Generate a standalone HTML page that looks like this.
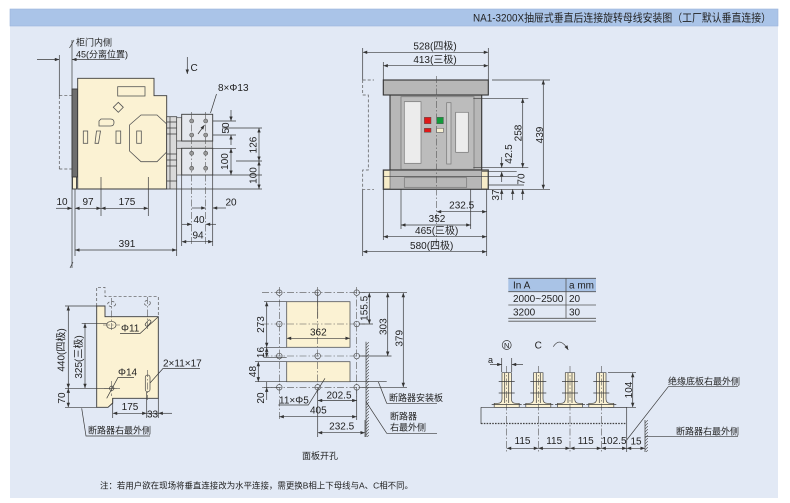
<!DOCTYPE html>
<html><head><meta charset="utf-8">
<style>
html,body{margin:0;padding:0;background:#fff;}
svg{display:block}
text{font-family:"Liberation Sans","Noto Sans CJK SC",sans-serif;fill:#222;}
.n{font-size:10px}
.c{font-size:9px}
.l{stroke:#3a3a3a;stroke-width:0.7;fill:none}
.k{stroke:#3a3a3a;stroke-width:0.7;fill:none;marker-start:url(#ar);marker-end:url(#ar)}
.e{stroke:#3a3a3a;stroke-width:0.7;fill:none;marker-end:url(#ar)}
.dd{stroke:#555;stroke-width:0.6;fill:none;stroke-dasharray:7 2 1.5 2}
.ds{stroke:#555;stroke-width:0.7;fill:none;stroke-dasharray:3 2}
.o{stroke:#3a3a3a;stroke-width:0.9}
.cr{fill:#fbf2d3}
</style></head><body>
<svg width="790" height="503" viewBox="0 0 790 503" xmlns="http://www.w3.org/2000/svg">
<defs>
<marker id="ar" viewBox="0 0 8 6" refX="8" refY="3" markerWidth="6" markerHeight="3.4" markerUnits="userSpaceOnUse" orient="auto-start-reverse"><path d="M0,0 L8,3 L0,6 z" fill="#333"/></marker>
<pattern id="h" width="3" height="3" patternUnits="userSpaceOnUse"><line x1="0" y1="3" x2="3" y2="0" stroke="#444" stroke-width="0.6"/></pattern>
</defs>

<!-- frame -->
<rect x="10" y="26" width="768" height="472" fill="#e2e9f5"/>
<rect x="10" y="9" width="768" height="17" fill="#aac4e8" stroke="#9bb5dc" stroke-width="0.6"/>
<text x="473" y="21.5" font-size="11" fill="#1a1a1a" textLength="298" lengthAdjust="spacingAndGlyphs">NA1-3200X抽屉式垂直后连接旋转母线安装图（工厂默认垂直连接）</text>

<!-- ================= LEFT TOP ================= -->
<line class="l" x1="72" y1="40" x2="72" y2="268"/>
<line class="l" x1="69.5" y1="48" x2="74" y2="40"/>
<line class="l" x1="70" y1="268" x2="73" y2="262"/>
<text class="c" x="76" y="45.5">柜门内侧</text>
<text class="c" x="76" y="57.5">45(分离位置)</text>
<line class="e" x1="37" y1="59.5" x2="59.3" y2="59.5"/>
<line class="e" x1="120" y1="59.5" x2="72" y2="59.5"/>
<line class="l" x1="59.3" y1="55" x2="59.3" y2="96"/>
<path class="ds" d="M59.3,96 V169 M59.3,95.7 H72 M59.3,169 H72"/>

<rect x="72" y="89" width="5.7" height="88" fill="#6e6e6e" class="o"/>
<rect x="72.5" y="177" width="4" height="12" class="cr o"/>
<path d="M77.7,78.3 H154 V95.7 H166.7 V189 H77.7 Z" class="cr o"/>
<rect x="117.7" y="86.7" width="27.3" height="9.3" fill="none" stroke="#555" stroke-width="0.8"/>
<polygon points="118.3,102.3 123.3,107.3 118.3,112.3 113.3,107.3" fill="none" stroke="#555" stroke-width="0.8"/>
<path d="M101,119 H110.5 Q114,119 114,122.5 Q114,126 110.5,126 H99 V121 Z" fill="none" stroke="#555" stroke-width="0.8"/>
<rect x="83.3" y="131" width="4.4" height="12.3" fill="none" stroke="#555" stroke-width="0.8"/>
<polygon points="96.5,131 100.5,131 98.5,143.3 95,143.3" fill="none" stroke="#555" stroke-width="0.8"/>
<rect x="116" y="131" width="4.7" height="12.3" fill="none" stroke="#555" stroke-width="0.8"/>
<rect x="136.7" y="131" width="4.6" height="12.3" fill="none" stroke="#555" stroke-width="0.8"/>
<polygon points="129.5,125 141,115 157,115 166.7,124 166.7,152 157,161.7 141,161.7 129.5,151" fill="none" stroke="#555" stroke-width="0.8"/>

<!-- connectors -->
<rect x="166.7" y="116.7" width="10" height="72.3" fill="#d9d9d9" stroke="#444" stroke-width="0.8"/>
<path class="l" d="M170,117 V189 M166.7,122 H176.7 M166.7,128 H176.7 M166.7,134 H176.7 M166.7,154 H176.7 M166.7,160 H176.7 M166.7,166 H176.7 M166.7,181 H176.7"/>
<rect x="176.7" y="117.7" width="5" height="23.3" fill="#e2e2e2" stroke="#555" stroke-width="0.7"/>
<rect x="176.7" y="148.3" width="5" height="26.7" fill="#e2e2e2" stroke="#555" stroke-width="0.7"/>
<rect x="176.7" y="141" width="36" height="7.3" fill="#d6d8dc" stroke="#555" stroke-width="0.7"/>
<rect x="181.7" y="114.3" width="31" height="26.7" fill="#e5e8ee" class="o"/>
<rect x="181.7" y="148.3" width="31" height="26.7" fill="#e5e8ee" class="o"/>
<line class="dd" x1="191.7" y1="112" x2="191.7" y2="244"/>
<line class="dd" x1="205.7" y1="112" x2="205.7" y2="244"/>
<g fill="#9a9a9a" stroke="#555" stroke-width="0.6">
<circle cx="191.7" cy="121" r="2"/><circle cx="205.7" cy="121" r="2"/>
<circle cx="191.7" cy="135" r="2"/><circle cx="205.7" cy="135" r="2"/>
<circle cx="191.7" cy="153.3" r="2"/><circle cx="205.7" cy="153.3" r="2"/>
<circle cx="191.7" cy="168.3" r="2"/><circle cx="205.7" cy="168.3" r="2"/>
</g>
<line class="e" x1="198" y1="134" x2="204.5" y2="125"/>
<line class="l" x1="210.5" y1="113" x2="216.5" y2="94"/>
<text class="n" x="218" y="91" font-size="9.5">8×Φ13</text>
<line class="e" x1="187.3" y1="57" x2="187.3" y2="74"/>
<text class="n" x="190.5" y="71">C</text>

<!-- right dims -->
<path class="l" d="M213,121 H236 M213,135 H236 M213,148.3 H236 M213,175 H262 M177,189 H262 M222,128 H262 M236,161 H262"/>
<line class="e" x1="231" y1="110" x2="231" y2="121"/>
<line class="e" x1="231" y1="145" x2="231" y2="135"/>
<line class="k" x1="231" y1="148.3" x2="231" y2="175"/>
<line class="k" x1="259" y1="128" x2="259" y2="161"/>
<line class="k" x1="259" y1="161" x2="259" y2="189"/>
<text class="n" text-anchor="middle" transform="translate(225.5,128) rotate(-90)" dy="0.35em">50</text>
<text class="n" text-anchor="middle" transform="translate(224.5,161.5) rotate(-90)" dy="0.35em">100</text>
<text class="n" text-anchor="middle" transform="translate(253,145) rotate(-90)" dy="0.35em">126</text>
<text class="n" text-anchor="middle" transform="translate(253,175.5) rotate(-90)" dy="0.35em">100</text>

<!-- bottom dims -->
<path class="l" d="M75,189 V256 M101,177 V216 M148.3,177 V216 M176.7,189 V256 M181.7,175 V246 M212.7,175 V246"/>
<line class="e" x1="56" y1="208.3" x2="72" y2="208.3"/>
<line class="k" x1="75" y1="208.3" x2="101" y2="208.3"/>
<line class="k" x1="101" y1="208.3" x2="148.3" y2="208.3"/>
<text class="n" x="62" y="205" text-anchor="middle">10</text>
<text class="n" x="88" y="205" text-anchor="middle">97</text>
<text class="n" x="127" y="205" text-anchor="middle">175</text>
<line class="e" x1="192" y1="208" x2="205.7" y2="208"/>
<line class="e" x1="226" y1="208" x2="212.7" y2="208"/>
<text class="n" x="231" y="205.5" text-anchor="middle">20</text>
<line class="e" x1="182" y1="224.3" x2="191.7" y2="224.3"/>
<line class="e" x1="216" y1="224.3" x2="205.7" y2="224.3"/>
<text class="n" x="199" y="223" text-anchor="middle">40</text>
<line class="k" x1="181.7" y1="241.7" x2="212.7" y2="241.7"/>
<text class="n" x="198" y="238.5" text-anchor="middle">94</text>
<line class="k" x1="75" y1="250" x2="176.7" y2="250"/>
<text class="n" x="127" y="247" text-anchor="middle">391</text>

<!-- ================= MIDDLE TOP ================= -->
<path class="l" d="M362.7,48 V80 M362.7,189.3 V256 M383.3,62 V80 M383.3,189.3 V240 M488.3,48 V80 M486.7,189.3 V256 M401,170 V229 M470.7,170 V229"/>
<path class="ds" d="M362.7,80 H374 M362.7,80 V95 H368.3 V170 H362.7 V189.3 H374"/>
<line class="k" x1="362.7" y1="52.3" x2="488.3" y2="52.3"/>
<text class="n" x="435" y="49.5" text-anchor="middle">528(四极)</text>
<line class="k" x1="383.3" y1="65.7" x2="488.3" y2="65.7"/>
<text class="n" x="435" y="63" text-anchor="middle">413(三极)</text>

<rect x="390" y="95" width="91.7" height="75" fill="#b7b7b7" stroke="#333" stroke-width="1.1"/>
<rect x="383.3" y="80" width="105" height="15" fill="#b7b7b7" stroke="#333" stroke-width="1.1"/>
<rect x="383.3" y="170" width="105" height="19.3" fill="#b7b7b7" stroke="#333" stroke-width="1.1"/>
<rect x="383.8" y="170.5" width="6.2" height="18.3" fill="#f6ecc9" stroke="#555" stroke-width="0.6"/>
<rect x="481.7" y="170.5" width="6.2" height="18.3" fill="#f6ecc9" stroke="#555" stroke-width="0.6"/>
<rect x="401" y="96.7" width="73" height="72.6" fill="#bcbcbc" stroke="#7a7a7a" stroke-width="0.8"/>
<rect x="404.3" y="101.7" width="16.7" height="61.6" fill="#ececec" stroke="#777" stroke-width="0.7"/>
<rect x="424.3" y="117.3" width="6.7" height="6.4" fill="#e01818" stroke="#555" stroke-width="0.5"/>
<rect x="436.7" y="117.3" width="6.7" height="6.4" fill="#129a3a" stroke="#555" stroke-width="0.5"/>
<rect x="424.3" y="128.3" width="6.7" height="4" fill="#e01818" stroke="#555" stroke-width="0.5"/>
<rect x="436.7" y="128.3" width="6.7" height="4" fill="#f6efd2" stroke="#555" stroke-width="0.5"/>
<rect x="446.7" y="102.7" width="4.3" height="61.3" fill="#c9c9c9" stroke="#777" stroke-width="0.7"/>
<rect x="455.7" y="112.3" width="12.6" height="40" fill="#ececec" stroke="#777" stroke-width="0.7"/>
<line class="l" x1="383.3" y1="176.7" x2="488.3" y2="176.7"/>
<rect x="404.3" y="177.7" width="62.4" height="9.6" fill="none" stroke="#777" stroke-width="0.7"/>
<line class="dd" x1="436.7" y1="76" x2="436.7" y2="243"/>

<!-- right dims middle -->
<path class="l" d="M492,80 H550 M473.3,98.3 H528.3 M473.3,167.7 H528.3 M481.7,171.7 H516.7 M488.3,176.7 H517 M488.3,185 H524 M488.3,189.3 H550"/>
<line class="k" x1="543.3" y1="80" x2="543.3" y2="189.3"/>
<text class="n" text-anchor="middle" transform="translate(539.5,135) rotate(-90)" dy="0.35em">439</text>
<line class="k" x1="522.7" y1="98.3" x2="522.7" y2="167.7"/>
<text class="n" text-anchor="middle" transform="translate(518,133) rotate(-90)" dy="0.35em">258</text>
<line class="e" x1="501.7" y1="157" x2="501.7" y2="167.7"/>
<line class="e" x1="501.7" y1="182" x2="501.7" y2="171.7"/>
<text class="n" text-anchor="middle" transform="translate(508.5,154) rotate(-90)" dy="0.35em">42.5</text>
<text class="n" text-anchor="middle" transform="translate(521,179) rotate(-90)" dy="0.35em">70</text>
<line class="e" x1="501.7" y1="200" x2="501.7" y2="189.3"/>
<line class="e" x1="512.7" y1="200" x2="512.7" y2="189.3"/>
<line class="e" x1="522.7" y1="200" x2="522.7" y2="189.3"/>
<text class="n" text-anchor="middle" transform="translate(495.5,195) rotate(-90)" dy="0.35em">37</text>

<!-- bottom dims middle -->
<line class="k" x1="436.7" y1="211.7" x2="486.7" y2="211.7"/>
<text class="n" x="461.7" y="208.5" text-anchor="middle">232.5</text>
<line class="k" x1="401" y1="225" x2="470.7" y2="225"/>
<text class="n" x="437" y="222" text-anchor="middle">352</text>
<line class="k" x1="383.3" y1="236.7" x2="486.7" y2="236.7"/>
<text class="n" x="436.7" y="234" text-anchor="middle">465(三极)</text>
<line class="k" x1="362.7" y1="251.7" x2="486.7" y2="251.7"/>
<text class="n" x="431.7" y="249" text-anchor="middle">580(四极)</text>

<!-- ================= BOTTOM LEFT ================= -->
<path class="ds" d="M96.7,306 V287.3 H105 V296.7 H158.3 V316.7"/>
<path d="M96.7,306 H105 V316.7 H158.3 V398.3 H112.7 V403 L108,407.3 H96.7 Z" class="cr o"/>
<rect x="106.7" y="321.7" width="9.3" height="6.6" rx="3.3" fill="none" stroke="#444" stroke-width="0.7"/>
<path class="dd" d="M111.7,298 V332 M103,325 H120"/>
<ellipse cx="111.7" cy="304" rx="4" ry="2.5" class="ds"/>
<ellipse cx="147.3" cy="303" rx="3" ry="2.5" class="ds"/>
<rect x="146.5" y="319.5" width="3.2" height="7" rx="1.6" fill="none" stroke="#444" stroke-width="0.7" transform="rotate(40 148 323)"/>
<path class="dd" d="M147.3,297 V331"/>
<text class="n" x="121" y="331.5" font-size="9.5">Φ11</text>
<path class="l" d="M120,333.5 H140 L158.3,316.7"/>
<circle cx="111.7" cy="388.3" r="2.2" fill="none" stroke="#444" stroke-width="0.7"/>
<path class="dd" d="M111.7,381 V396 M104,388.3 H120"/>
<text class="n" x="118" y="375.5" font-size="9.5">Φ14</text>
<path class="l" d="M134,377.5 H118 L106.7,398.3"/>
<rect x="145.3" y="375" width="4.7" height="16.7" rx="2.3" fill="none" stroke="#444" stroke-width="0.7"/>
<path class="dd" d="M147.7,370 V400"/>
<text class="n" x="163" y="366.5" font-size="9.5">2×11×17</text>
<path class="l" d="M150,383 L163,368.5 H200"/>
<path class="l" d="M65,306 H96.7 M81.7,323.3 H106.7 M65,388.3 H116.7 M65,407.3 H96.7"/>
<line class="k" x1="68.3" y1="306" x2="68.3" y2="388.3"/>
<line class="k" x1="68.3" y1="388.3" x2="68.3" y2="407.3"/>
<line class="k" x1="85" y1="323.3" x2="85" y2="388.3"/>
<text class="n" text-anchor="middle" transform="translate(61,350) rotate(-90)" dy="0.35em" font-size="9.5">440(四极)</text>
<text class="n" text-anchor="middle" transform="translate(78.3,357) rotate(-90)" dy="0.35em" font-size="9.5">325(三极)</text>
<text class="n" text-anchor="middle" transform="translate(61.5,398) rotate(-90)" dy="0.35em">70</text>
<path class="l" d="M112.7,398.3 V418 M146.7,392 V418 M158.3,398.3 V418"/>
<line class="k" x1="112.7" y1="413.3" x2="146.7" y2="413.3"/>
<line class="l" x1="146.7" y1="413.3" x2="158.3" y2="413.3"/>
<line class="e" x1="172" y1="413.3" x2="158.3" y2="413.3"/>
<text class="n" x="130" y="410" text-anchor="middle">175</text>
<text class="n" x="152.5" y="417.5" text-anchor="middle">33</text>
<text class="c" x="88" y="433.5">断路器右最外侧</text>
<path class="l" d="M81.7,408.3 L86,436 H150"/>

<!-- ================= PANEL CUTOUT ================= -->
<rect x="286.7" y="301.7" width="63.3" height="45.6" class="cr" stroke="#555" stroke-width="0.8"/>
<rect x="286.7" y="361.7" width="63.3" height="20" class="cr" stroke="#555" stroke-width="0.8"/>
<path class="dd" d="M262,292.7 H365 M262,324 H365 M262,356 H365 M262,387.3 H365 M279.3,287 V420 M317.7,287 V395 M356.7,287 V397"/>
<line class="l" x1="317.7" y1="292.7" x2="317.7" y2="318"/>
<g fill="none" stroke="#555" stroke-width="0.7">
<circle cx="279.3" cy="292.7" r="2.8"/><circle cx="317.7" cy="292.7" r="2.8"/><circle cx="356.7" cy="292.7" r="2.8"/>
<circle cx="279.3" cy="324" r="2.8"/><circle cx="356.7" cy="324" r="2.8"/>
<circle cx="279.3" cy="356" r="2.8"/><circle cx="317.7" cy="356" r="2.8"/><circle cx="356.7" cy="356" r="2.8"/>
<circle cx="279.3" cy="387.3" r="2.8"/><circle cx="317.7" cy="387.3" r="2.8"/><circle cx="356.7" cy="387.3" r="2.8"/>
</g>
<line class="k" x1="286.7" y1="338.3" x2="350" y2="338.3"/>
<text class="n" x="318.3" y="335.5" text-anchor="middle">362</text>
<path class="l" d="M264,301.7 H286.7 M264,347.3 H286.7 M264,357.3 H286.7 M255,361.7 H286.7 M255,381.7 H286.7 M264,387.3 H279"/>
<line class="k" x1="266.7" y1="301.7" x2="266.7" y2="347.3"/>
<line class="k" x1="266.7" y1="347.3" x2="266.7" y2="357.3"/>
<line class="k" x1="258.3" y1="361.7" x2="258.3" y2="381.7"/>
<line class="e" x1="266.7" y1="400" x2="266.7" y2="387.3"/>
<line class="l" x1="266.7" y1="381.7" x2="266.7" y2="387.3"/>
<text class="n" text-anchor="middle" transform="translate(260.7,324.5) rotate(-90)" dy="0.35em">273</text>
<text class="n" text-anchor="middle" transform="translate(260.7,352.5) rotate(-90)" dy="0.35em">16</text>
<text class="n" text-anchor="middle" transform="translate(252.5,371.5) rotate(-90)" dy="0.35em">48</text>
<text class="n" text-anchor="middle" transform="translate(260.7,398) rotate(-90)" dy="0.35em">20</text>
<path class="l" d="M359.5,292.7 H407 M359.5,324 H373 M359.5,356 H391.5 M359.5,387.3 H407"/>
<line class="k" x1="369.3" y1="292.7" x2="369.3" y2="324"/>
<line class="k" x1="387.7" y1="292.7" x2="387.7" y2="356"/>
<line class="k" x1="403.3" y1="292.7" x2="403.3" y2="387.3"/>
<text class="n" text-anchor="middle" transform="translate(364,308.3) rotate(-90)" dy="0.35em">155.5</text>
<text class="n" text-anchor="middle" transform="translate(383,326.7) rotate(-90)" dy="0.35em">303</text>
<text class="n" text-anchor="middle" transform="translate(399,338.3) rotate(-90)" dy="0.35em">379</text>
<line class="l" x1="366" y1="341.7" x2="366" y2="437"/>
<rect x="366" y="342" width="3" height="95" fill="url(#h)"/>
<path class="l" d="M350,381.7 H386.7 M378.3,381.7 L386.7,403.3 H437"/>
<text class="c" x="389" y="401">断路器安装板</text>
<path class="l" d="M366,401.7 L386.7,433.3 H437"/>
<text class="c" x="390" y="419.5">断路器</text>
<text class="c" x="390" y="430.5">右最外侧</text>
<text class="n" x="279" y="403.3" font-size="9.5">11×Φ5</text>
<path class="l" d="M278.3,405 H308.3 L325,378.3"/>
<path class="l" d="M317.7,390 V437 M356.7,390 V420 M365,420 V437"/>
<line class="k" x1="317.7" y1="400.5" x2="356.7" y2="400.5"/>
<text class="n" x="339" y="398.5" text-anchor="middle">202.5</text>
<line class="k" x1="279.3" y1="416.7" x2="356.7" y2="416.7"/>
<text class="n" x="318.3" y="413.5" text-anchor="middle">405</text>
<line class="k" x1="317.7" y1="432.7" x2="365" y2="432.7"/>
<text class="n" x="341.7" y="429.5" text-anchor="middle">232.5</text>
<text class="c" x="320" y="459" text-anchor="middle">面板开孔</text>

<!-- ================= TABLE ================= -->
<rect x="508.3" y="278.3" width="87.7" height="13.4" fill="#a9c3e6"/>
<path d="M508.3,278.3 H596 M508.3,291.7 H596 M508.3,305 H596 M508.3,318.3 H596 M508.3,321.2 H596" stroke="#555" stroke-width="0.8" fill="none"/>
<line x1="566" y1="278.3" x2="566" y2="318.3" stroke="#555" stroke-width="0.8"/>
<text class="n" x="513" y="288.5" font-size="9.5">In A</text>
<text class="n" x="569" y="288.5" font-size="9.5">a mm</text>
<text class="n" x="513" y="302" font-size="9.5">2000~2500</text>
<text class="n" x="569" y="302" font-size="9.5">20</text>
<text class="n" x="513" y="315.5" font-size="9.5">3200</text>
<text class="n" x="569" y="315.5" font-size="9.5">30</text>

<!-- ================= BUSBARS ================= -->
<circle cx="506.7" cy="345" r="4.5" fill="none" stroke="#333" stroke-width="0.7"/>
<text x="506.7" y="347.8" font-size="7.5" text-anchor="middle">N</text>
<text class="n" x="538.3" y="348.5" text-anchor="middle">C</text>
<path class="e" d="M553.3,346.7 Q560,336 568.3,350"/>
<text x="488" y="363" font-size="9">a</text>
<path class="l" d="M501.7,358 V372 M511.7,358 V372"/>
<line class="e" x1="490" y1="364.5" x2="501.7" y2="364.5"/>
<line class="e" x1="523" y1="364.5" x2="511.7" y2="364.5"/>

<g transform="translate(506.7,0)">
<path d="M-4.7,372.7 H4.7 V399 Q4.7,403.3 9,403.3 H12.5 V407.3 H-12.5 V403.3 H-9 Q-4.7,403.3 -4.7,399 Z" class="cr" stroke="#444" stroke-width="0.7"/>
<path class="l" d="M-2,372.7 V403 M2,372.7 V403 M-8,381.5 H8 M-8,393 H8 M-15,404.5 H15"/>
<line class="dd" x1="0" y1="366" x2="0" y2="452"/>
</g>
<g transform="translate(538.3,0)">
<path d="M-4.7,372.7 H4.7 V399 Q4.7,403.3 9,403.3 H12.5 V407.3 H-12.5 V403.3 H-9 Q-4.7,403.3 -4.7,399 Z" class="cr" stroke="#444" stroke-width="0.7"/>
<path class="l" d="M-2,372.7 V403 M2,372.7 V403 M-8,381.5 H8 M-8,393 H8 M-15,404.5 H15"/>
<line class="dd" x1="0" y1="366" x2="0" y2="452"/>
</g>
<g transform="translate(570,0)">
<path d="M-4.7,372.7 H4.7 V399 Q4.7,403.3 9,403.3 H12.5 V407.3 H-12.5 V403.3 H-9 Q-4.7,403.3 -4.7,399 Z" class="cr" stroke="#444" stroke-width="0.7"/>
<path class="l" d="M-2,372.7 V403 M2,372.7 V403 M-8,381.5 H8 M-8,393 H8 M-15,404.5 H15"/>
<line class="dd" x1="0" y1="366" x2="0" y2="452"/>
</g>
<g transform="translate(601.3,0)">
<path d="M-4.7,372.7 H4.7 V399 Q4.7,403.3 9,403.3 H12.5 V407.3 H-12.5 V403.3 H-9 Q-4.7,403.3 -4.7,399 Z" class="cr" stroke="#444" stroke-width="0.7"/>
<path class="l" d="M-2,372.7 V403 M2,372.7 V403 M-8,381.5 H8 M-8,393 H8 M-15,404.5 H15"/>
<line class="dd" x1="0" y1="366" x2="0" y2="452"/>
</g>

<path class="l" d="M481,407.3 H626.7 M481,407.3 V424 M626.7,407.3 V452"/>
<line x1="481" y1="423.5" x2="626.7" y2="423.5" stroke="#444" stroke-width="1.3" stroke-dasharray="1.6 1.2"/>
<path class="l" d="M608,372.7 H636 M608,407.3 H636"/>
<line class="k" x1="632.7" y1="372.7" x2="632.7" y2="407.3"/>
<text class="n" text-anchor="middle" transform="translate(628.5,390) rotate(-90)" dy="0.35em">104</text>

<line class="k" x1="506.7" y1="448.3" x2="538.3" y2="448.3"/>
<line class="k" x1="538.3" y1="448.3" x2="570" y2="448.3"/>
<line class="k" x1="570" y1="448.3" x2="601.3" y2="448.3"/>
<line class="k" x1="601.3" y1="448.3" x2="626.7" y2="448.3"/>
<line class="k" x1="626.7" y1="448.3" x2="645" y2="448.3"/>
<text class="n" x="522.5" y="444" text-anchor="middle">115</text>
<text class="n" x="554.2" y="444" text-anchor="middle">115</text>
<text class="n" x="585.7" y="444" text-anchor="middle">115</text>
<text class="n" x="614" y="444" text-anchor="middle">102.5</text>
<text class="n" x="636" y="444.5" text-anchor="middle" font-size="9">15</text>
<line class="l" x1="645" y1="420" x2="645" y2="452"/>
<rect x="645" y="420" width="3" height="32" fill="url(#h)"/>
<path class="l" d="M626.7,440 L668.3,386.7 H738"/>
<text class="c" x="668" y="384.3" font-size="8.8">绝缘底板右最外侧</text>
<line class="l" x1="645" y1="436.7" x2="738" y2="436.7"/>
<text class="c" x="676" y="434.3" font-size="8.8">断路器右最外侧</text>

<!-- note -->
<text x="100" y="488.5" font-size="8.5" textLength="313" lengthAdjust="spacingAndGlyphs">注：若用户欲在现场将垂直连接改为水平连接，需更换B相上下母线与A、C相不同。</text>
</svg>
</body></html>
